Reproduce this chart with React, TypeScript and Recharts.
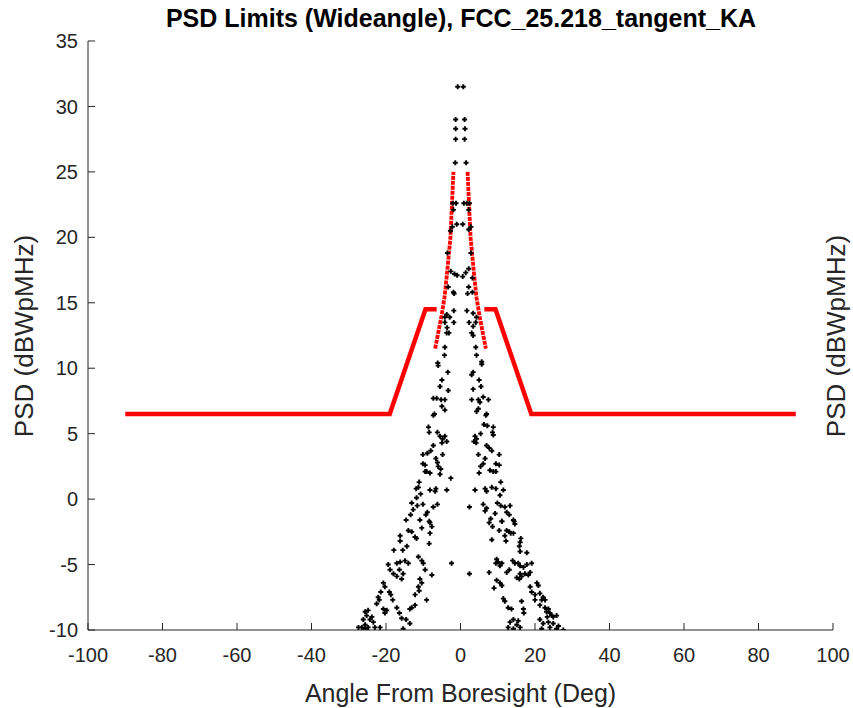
import React from 'react';
import { ComposedChart, Scatter, Line, XAxis, YAxis } from 'recharts';

const FONT = "'Liberation Sans', Arial, Helvetica, sans-serif";
const AXIS = '#262626';

const xTicks = [-100, -80, -60, -40, -20, 0, 20, 40, 60, 80, 100];
const yTicks = [-10, -5, 0, 5, 10, 15, 20, 25, 30, 35];

// red PSD mask (wide-angle limit)
const maskLeft: [number, number][] = [[-90, 6.5], [-19, 6.5], [-9.4, 14.5], [-6.4, 14.5]];
const maskRight: [number, number][] = [[6.4, 14.5], [9.4, 14.5], [19, 6.5], [90, 6.5]];
const spikeLeft: [number, number][] = [[-6.8, 11.5], [-5.1, 14.0], [-4.3, 15.4], [-3.6, 17.3], [-2.7, 20.0], [-1.9, 25.0]];
const spikeRight: [number, number][] = [[1.9, 25.0], [2.7, 20.0], [3.6, 17.3], [4.3, 15.4], [5.1, 14.0], [6.8, 11.5]];

// black measured points
const peakPts: [number, number][] = [
  [-0.75, 31.5], [0.75, 31.5], [-1.3, 29.0], [1.1, 29.0], [-1.3, 28.3], [1.2, 28.3],
  [-1.3, 27.5], [1.1, 27.5], [-1.4, 25.7], [1.5, 25.7],
  [-2.1, 22.6], [-1.2, 22.6], [0.9, 22.6], [1.7, 22.6], [2.4, 22.6], [-1.9, 22.1], [2.2, 22.1],
  [-1.0, 21.0], [0.6, 21.0], [-2.7, 20.5], [-2.2, 20.8], [2.2, 20.6], [2.8, 20.8],
  [-3.5, 18.8], [2.8, 18.8], [-2.6, 17.4], [-1.6, 17.2], [-0.9, 17.1], [0.6, 17.0], [1.4, 17.3], [2.2, 17.6],
  [3.2, 16.9], [-3.3, 16.2], [-1.9, 15.8], [2.2, 16.2], [3.2, 15.8],
];

const leftPts: [number, number][] = [
  [-1.7, 15.7], [-1.8, 14.4], [-3.7, 14.1], [-4.2, 13.9], [-2.9, 13.9], [-4.2, 13.5], [-1.8, 13.5],
  [-3.6, 13.1], [-3.7, 12.7], [-3.1, 12.7], [-4.2, 11.6], [-4.3, 11.0], [-6.1, 10.4], [-6.0, 10.2],
  [-3.4, 9.7], [-5.0, 9.1], [-5.5, 8.6], [-3.3, 8.3], [-7.3, 7.7], [-6.4, 7.7], [-5.2, 7.6], [-4.2, 7.6],
  [-5.0, 7.1], [-4.2, 6.8], [-7.0, 6.5],
  [-7.3, 6.4], [-8.6, 5.5], [-8.4, 5.1], [-6.2, 5.1], [-5.5, 4.8], [-4.2, 4.8], [-4.8, 4.6], [-3.7, 4.4],
  [-5.0, 4.3], [-7.3, 4.1], [-8.0, 3.7], [-8.9, 3.5], [-10.1, 3.4], [-4.8, 3.4], [-6.6, 3.1], [-6.2, 2.8],
  [-10.1, 2.7], [-9.5, 2.6], [-6.0, 2.5], [-5.3, 2.3], [-9.5, 2.1], [-8.2, 2.0], [-9.1, 2.1], [-5.5, 1.9],
  [-2.6, 1.6], [-11.1, 1.3], [-11.3, 0.9], [-11.9, 0.8], [-8.2, 0.7], [-6.6, 0.8], [-6.8, 0.6], [-3.7, 0.7],
  [-10.7, 0.4], [-11.8, 0.1], [-13.1, -0.3], [-10.1, -0.4], [-11.6, -0.5], [-6.2, -0.4], [-7.3, -0.6],
  [-12.7, -0.8], [-13.4, -1.2], [-8.9, -1.0], [-9.3, -1.2], [-14.6, -1.6], [-8.2, -1.8], [-10.9, -1.6],
  [-8.4, -1.7], [-7.7, -2.1], [-14.0, -2.4], [-13.1, -2.5], [-12.2, -2.9], [-11.8, -3.0], [-10.4, -2.2],
  [-8.2, -2.6], [-16.2, -2.8], [-16.2, -3.2], [-8.4, -3.4], [-17.9, -3.9], [-15.5, -3.9], [-14.4, -3.6],
  [-11.3, -4.4], [-10.4, -4.7], [-10.0, -4.9], [-2.4, -4.9], [-17.1, -4.9], [-16.2, -4.8], [-14.9, -4.7],
  [-14.0, -4.9], [-19.4, -5.0], [-18.9, -5.4], [-16.4, -5.4], [-15.4, -5.7], [-18.0, -5.7], [-17.1, -5.9],
  [-15.8, -6.1], [-9.5, -5.4], [-7.7, -5.8], [-10.9, -6.1], [-10.4, -6.4], [-11.3, -6.7], [-11.1, -7.0],
  [-12.2, -7.3], [-9.1, -7.7], [-20.7, -6.4], [-20.3, -6.7], [-19.1, -7.1], [-18.7, -7.3], [-21.4, -7.1],
  [-22.1, -7.5], [-21.8, -7.7], [-22.5, -8.0], [-18.2, -7.7], [-17.1, -8.3], [-16.4, -8.7], [-19.8, -8.5],
  [-20.7, -8.4], [-20.3, -8.7], [-13.1, -8.3], [-12.2, -8.1], [-13.6, -8.4], [-15.8, -9.1], [-14.6, -9.2],
  [-13.6, -9.5], [-15.4, -9.9], [-25.6, -8.6], [-24.8, -8.5], [-25.2, -8.9], [-23.8, -9.0], [-24.3, -9.2],
  [-23.4, -9.4], [-26.1, -9.2], [-25.6, -9.6], [-26.5, -9.8], [-27.4, -9.8], [-24.8, -9.8], [-23.0, -9.8],
  [-21.6, -9.8], [-25.6, -9.9],
];

const rightPts: [number, number][] = [
  [1.9, 15.7], [1.7, 14.4], [3.4, 14.2], [4.3, 13.9], [2.3, 13.5], [4.1, 13.5], [3.4, 13.2], [3.0, 12.7],
  [3.4, 12.5], [4.1, 11.6], [4.3, 11.0], [5.7, 10.5], [5.7, 10.3], [3.4, 9.7], [3.0, 9.5], [5.0, 9.1],
  [3.4, 8.4], [5.5, 8.6], [3.0, 7.6], [4.8, 7.6], [6.1, 7.8], [7.5, 7.6], [5.2, 7.4], [4.8, 6.9], [4.3, 6.7],
  [7.0, 6.5],
  [6.8, 6.4], [6.3, 5.7], [7.2, 5.6], [8.8, 5.5], [8.6, 5.1], [5.4, 5.0], [3.9, 4.8], [4.3, 4.6], [3.6, 4.4],
  [4.2, 4.3], [8.8, 4.9], [7.0, 4.1], [7.7, 3.9], [8.4, 3.7], [4.8, 3.4], [10.4, 3.4], [6.6, 3.1], [6.1, 2.7],
  [5.4, 2.5], [9.5, 2.7], [10.4, 2.6], [5.0, 2.0], [7.9, 2.2], [8.8, 2.1], [9.5, 2.1], [10.8, 1.3], [3.9, 0.7],
  [6.6, 0.8], [8.4, 0.9], [9.5, 0.8], [11.5, 0.7], [7.0, 0.6], [10.6, 0.3], [2.4, -0.6], [6.1, -0.4],
  [7.0, -0.7], [6.6, -0.9], [9.9, -0.3], [10.8, -0.5], [11.9, -0.6], [13.3, -0.5], [9.3, -1.1], [12.4, -1.0],
  [13.1, -1.2], [11.1, -1.7], [14.2, -1.6], [14.6, -1.9], [8.1, -1.5], [7.7, -1.8],
  [8.6, -2.1], [11.1, -1.7], [14.4, -1.7], [10.4, -2.4], [12.4, -2.4], [13.1, -2.5], [13.5, -2.6], [14.2, -2.6],
  [11.9, -2.8], [12.2, -3.2], [8.4, -3.1], [16.2, -3.0], [16.0, -3.3], [15.8, -3.6], [17.8, -4.1], [16.0, -4.0],
  [9.7, -4.6], [9.5, -4.9], [10.1, -4.8], [11.1, -4.9], [10.6, -5.1], [14.0, -4.7], [14.6, -4.9], [15.5, -4.9],
  [16.0, -5.1], [16.9, -5.2], [17.8, -5.0], [19.1, -4.9], [18.7, -5.6], [18.2, -5.8], [17.3, -5.7], [16.0, -5.7],
  [16.4, -5.9], [15.8, -6.1], [15.1, -6.0], [2.4, -5.7], [7.7, -5.6], [12.4, -5.6], [13.1, -5.4], [9.7, -6.2],
  [10.6, -6.4], [11.1, -6.6], [9.0, -6.8], [20.5, -6.4], [20.9, -6.6], [18.7, -6.7], [19.1, -7.1], [20.0, -7.3],
  [21.3, -7.2], [22.2, -7.5], [21.8, -7.7], [22.7, -7.7], [20.0, -7.7], [21.3, -8.1], [11.5, -7.6], [11.9, -7.8],
  [16.4, -7.8], [16.9, -8.4], [17.0, -8.7], [12.8, -8.3], [13.7, -8.4], [22.7, -8.3], [23.6, -8.4], [24.0, -8.7],
  [24.5, -8.9], [23.3, -9.0], [24.9, -9.0], [23.1, -8.6], [25.8, -8.9], [14.2, -9.2], [13.3, -9.4], [15.5, -9.3],
  [15.1, -9.6], [12.8, -9.8], [14.2, -9.9], [16.0, -9.8], [21.3, -9.2], [22.2, -9.5], [23.6, -9.4], [24.9, -9.5],
  [26.3, -9.7], [21.8, -9.9], [24.0, -9.8], [27.6, -10.0], [25.8, -9.9],
];

const rows = (pts: [number, number][]) => pts.map(([x, y]) => ({ x, y }));

const PlusDot = (props: any) => {
  const { cx, cy } = props;
  if (cx == null || cy == null) return <g />;
  return (
    <path
      d={`M${cx - 2.5},${cy}h5M${cx},${cy - 2.5}v5`}
      stroke="#000"
      strokeWidth={1.9}
    />
  );
};

const tickStyle = { fill: AXIS, fontSize: 20, fontFamily: FONT };

const sideLabel = (x: number) => () => (
  <text
    x={x}
    y={336}
    transform={`rotate(-90, ${x}, 336)`}
    textAnchor="middle"
    dominantBaseline="central"
    fill={AXIS}
    fontSize={26}
    fontFamily={FONT}
  >
    PSD (dBWpMHz)
  </text>
);

export default function App() {
  const redLines = [maskLeft, maskRight];
  const redSpikes = [spikeLeft, spikeRight];
  const black = [...rows(peakPts), ...rows(leftPts), ...rows(rightPts)];
  return (
    <div style={{ position: 'absolute', left: 0, top: 0, width: 853, height: 708, background: '#fff', overflow: 'hidden' }}>
      <div
        style={{
          position: 'absolute', left: 111, top: 4, width: 700, textAlign: 'center',
          fontFamily: FONT, fontWeight: 'bold', fontSize: 25, color: '#000', lineHeight: '28px',
        }}
      >
        PSD Limits (Wideangle), FCC_25.218_tangent_KA
      </div>
      <ComposedChart width={853} height={708} margin={{ top: 41, right: 0, bottom: 0, left: 0 }}>
        <XAxis
          type="number"
          dataKey="x"
          domain={[-100, 100]}
          ticks={xTicks}
          allowDataOverflow
          height={78}
          stroke={AXIS}
          tick={tickStyle}
          tickSize={-7}
          tickMargin={25}
          label={{ value: 'Angle From Boresight (Deg)', position: 'insideBottom', offset: 6, fill: AXIS, fontSize: 25, fontFamily: FONT }}
        />
        <YAxis
          yAxisId="l"
          type="number"
          dataKey="y"
          domain={[-10, 35]}
          ticks={yTicks}
          allowDataOverflow
          width={88}
          stroke={AXIS}
          tick={tickStyle}
          tickSize={-7}
          tickMargin={17}
          label={{ content: sideLabel(24) }}
        />
        <YAxis
          yAxisId="r"
          orientation="right"
          type="number"
          domain={[-10, 35]}
          width={20}
          axisLine={false}
          tickLine={false}
          tick={false}
          label={{ content: sideLabel(836) }}
        />
        {redLines.map((seg, i) => (
          <Line
            key={`mask-${i}`}
            yAxisId="l"
            data={rows(seg)}
            dataKey="y"
            type="linear"
            stroke="#ff0000"
            strokeWidth={4.5}
            dot={false}
            activeDot={false}
            isAnimationActive={false}
          />
        ))}
        {redSpikes.map((seg, i) => (
          <Line
            key={`spike-${i}`}
            yAxisId="l"
            data={rows(seg)}
            dataKey="y"
            type="linear"
            stroke="#ff0000"
            strokeWidth={3.8}
            strokeDasharray="4 1"
            dot={false}
            activeDot={false}
            isAnimationActive={false}
          />
        ))}
        <Scatter yAxisId="l" data={black} dataKey="y" shape={<PlusDot />} isAnimationActive={false} />
      </ComposedChart>
    </div>
  );
}
